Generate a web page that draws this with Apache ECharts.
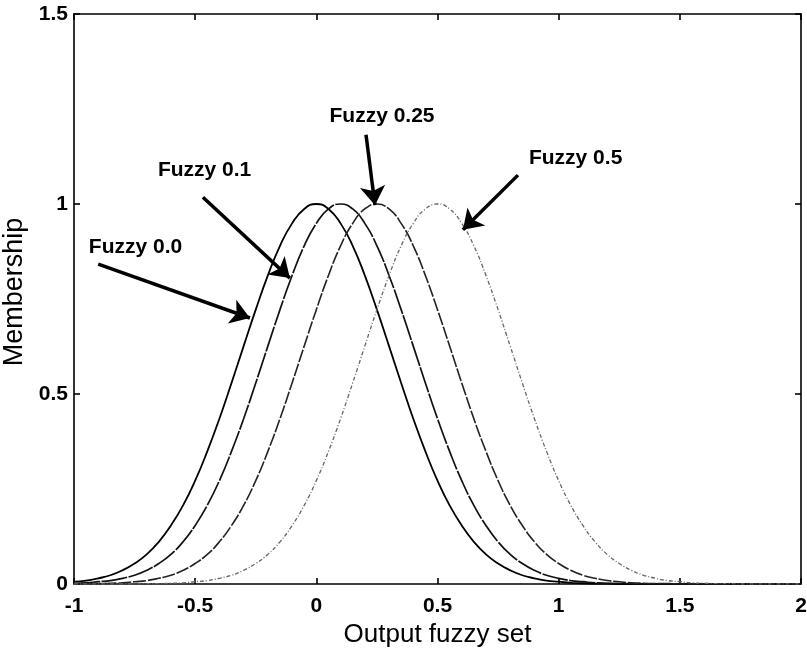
<!DOCTYPE html>
<html>
<head>
<meta charset="utf-8">
<script src="https://cdn.jsdelivr.net/npm/echarts@6/dist/echarts.min.js"></script>
<style>
  html, body { margin: 0; padding: 0; background: #ffffff; }
  #chart { width: 807px; height: 648px; }
</style>
</head>
<body>
<div id="chart"></div>
<script>
// Sample positions along the output universe
var xValues = [-1,-0.95,-0.9,-0.85,-0.8,-0.75,-0.7,-0.65,-0.6,-0.55,-0.5,-0.45,-0.4,-0.35,-0.3,-0.25,-0.2,-0.15,-0.1,-0.05,
  0,0.05,0.1,0.15,0.2,0.25,0.3,0.35,0.4,0.45,0.5,0.55,0.6,0.65,0.7,0.75,0.8,0.85,0.9,0.95,
  1,1.05,1.1,1.15,1.2,1.25,1.3,1.35,1.4,1.45,1.5,1.55,1.6,1.65,1.7,1.75,1.8,1.85,1.9,1.95,2];

// Membership values of each output fuzzy set
var fuzzy00 = [0.006,0.009,0.015,0.023,0.036,0.054,0.078,0.111,0.154,0.207,0.272,0.349,0.435,0.529,0.626,0.722,0.812,0.890,0.949,0.987,
  1.000,0.987,0.949,0.890,0.812,0.722,0.626,0.529,0.435,0.349,0.272,0.207,0.154,0.111,0.078,0.054,0.036,0.023,0.015,0.009,
  0.006,0.003,0.002,0.001,0.001,0,0,0,0,0,0,0,0,0,0,0,0,0,0,0,0];
var fuzzy01 = [0.002,0.003,0.006,0.009,0.015,0.023,0.036,0.054,0.078,0.111,0.154,0.207,0.272,0.349,0.435,0.529,0.626,0.722,0.812,0.890,
  0.949,0.987,1.000,0.987,0.949,0.890,0.812,0.722,0.626,0.529,0.435,0.349,0.272,0.207,0.154,0.111,0.078,0.054,0.036,0.023,
  0.015,0.009,0.006,0.003,0.002,0.001,0.001,0,0,0,0,0,0,0,0,0,0,0,0,0,0];
var fuzzy025 = [0,0.001,0.001,0.002,0.003,0.006,0.009,0.015,0.023,0.036,0.054,0.078,0.111,0.154,0.207,0.272,0.349,0.435,0.529,0.626,
  0.722,0.812,0.890,0.949,0.987,1.000,0.987,0.949,0.890,0.812,0.722,0.626,0.529,0.435,0.349,0.272,0.207,0.154,0.111,0.078,
  0.054,0.036,0.023,0.015,0.009,0.006,0.003,0.002,0.001,0.001,0,0,0,0,0,0,0,0,0,0,0];
var fuzzy05 = [0,0,0,0,0,0,0.001,0.001,0.002,0.003,0.006,0.009,0.015,0.023,0.036,0.054,0.078,0.111,0.154,0.207,
  0.272,0.349,0.435,0.529,0.626,0.722,0.812,0.890,0.949,0.987,1.000,0.987,0.949,0.890,0.812,0.722,0.626,0.529,0.435,0.349,
  0.272,0.207,0.154,0.111,0.078,0.054,0.036,0.023,0.015,0.009,0.006,0.003,0.002,0.001,0.001,0,0,0,0,0,0];

// Tick labels
var xTickLabels = ['-1','-0.5','0','0.5','1','1.5','2'];
var yTickLabels = ['0','0.5','1','1.5'];

// Callout texts and arrows, in data coordinates
var calloutTexts = ['Fuzzy 0.0','Fuzzy 0.1','Fuzzy 0.25','Fuzzy 0.5'];
var calloutTextAt = [[-0.746,0.886],[-0.461,1.088],[0.271,1.232],[1.07,1.121]];
var arrowFrom = [[-0.9,0.842],[-0.468,1.018],[0.205,1.182],[0.832,1.076]];
var arrowTo = [[-0.274,0.70],[-0.109,0.805],[0.242,0.997],[0.605,0.932]];

function pairs(ys) {
  return xValues.map(function (x, i) { return [x, ys[i]]; });
}
function tickText(list, min, step) {
  return function (v) {
    var idx = Math.round((v - min) / step);
    return list[idx] !== undefined ? list[idx] : '';
  };
}

var FONT = '"Liberation Sans", Arial, Helvetica, sans-serif';
var axisLine = { show: true, onZero: false, lineStyle: { color: '#000', width: 1.6 } };
var axisTick = { show: true, inside: true, length: 6, lineStyle: { color: '#000', width: 1.6 } };

var chart = echarts.init(document.getElementById('chart'), null, { renderer: 'canvas' });

var annotationLines = arrowFrom.map(function (a, i) {
  return [{ coord: a }, { coord: arrowTo[i] }];
});
var annotationTexts = calloutTexts.map(function (t, i) {
  return { coord: calloutTextAt[i], value: t };
});

chart.setOption({
  backgroundColor: '#ffffff',
  animation: false,
  grid: { left: 74, right: 6, top: 14, bottom: 64, containLabel: false, outerBoundsMode: 'none' },
  xAxis: [{
    type: 'value', min: -1, max: 2, interval: 0.5, position: 'bottom',
    name: 'Output fuzzy set', nameLocation: 'middle', nameGap: 36,
    nameTextStyle: { fontFamily: FONT, fontSize: 26, color: '#000' },
    axisLine: axisLine, axisTick: axisTick, splitLine: { show: false },
    axisLabel: { fontFamily: FONT, fontSize: 21, fontWeight: 'bold', color: '#000', margin: 12,
      formatter: tickText(xTickLabels, -1, 0.5) }
  }, {
    type: 'value', min: -1, max: 2, interval: 0.5, position: 'top',
    axisLine: axisLine, axisTick: axisTick, splitLine: { show: false }, axisLabel: { show: false }
  }],
  yAxis: [{
    type: 'value', min: 0, max: 1.5, interval: 0.5, position: 'left',
    name: 'Membership', nameLocation: 'middle', nameGap: 46,
    nameTextStyle: { fontFamily: FONT, fontSize: 27, color: '#000', padding: [0, 0, 0, 14] },
    axisLine: axisLine, axisTick: axisTick, splitLine: { show: false },
    axisLabel: { fontFamily: FONT, fontSize: 21, fontWeight: 'bold', color: '#000', margin: 6,
      formatter: tickText(yTickLabels, 0, 0.5) }
  }, {
    type: 'value', min: 0, max: 1.5, interval: 0.5, position: 'right',
    axisLine: axisLine, axisTick: axisTick, splitLine: { show: false }, axisLabel: { show: false }
  }],
  series: [{
    name: 'Fuzzy 0.0', type: 'line', smooth: true, showSymbol: false, silent: true,
    data: pairs(fuzzy00),
    lineStyle: { color: '#000', width: 1.8, type: 'solid' },
    markLine: {
      silent: true, symbol: ['none', 'arrow'], symbolSize: 19,
      label: { show: false },
      lineStyle: { color: '#000', width: 3.5, type: 'solid' },
      data: annotationLines
    },
    markPoint: {
      silent: true, symbol: 'circle', symbolSize: 1,
      itemStyle: { color: 'rgba(0,0,0,0)' },
      label: { show: true, position: 'inside', formatter: function (p) { return p.value; },
        fontFamily: FONT, fontSize: 21, fontWeight: 'bold', color: '#000' },
      data: annotationTexts
    }
  }, {
    name: 'Fuzzy 0.1', type: 'line', smooth: true, showSymbol: false, silent: true,
    data: pairs(fuzzy01),
    lineStyle: { color: '#111', width: 1.7, type: [26, 1.5] }
  }, {
    name: 'Fuzzy 0.25', type: 'line', smooth: true, showSymbol: false, silent: true,
    data: pairs(fuzzy025),
    lineStyle: { color: '#222', width: 1.6, type: [13, 1.8] }
  }, {
    name: 'Fuzzy 0.5', type: 'line', smooth: true, showSymbol: false, silent: true,
    data: pairs(fuzzy05),
    lineStyle: { color: '#666', width: 1.3, type: [4, 2, 1, 2] }
  }]
});
</script>
</body>
</html>
